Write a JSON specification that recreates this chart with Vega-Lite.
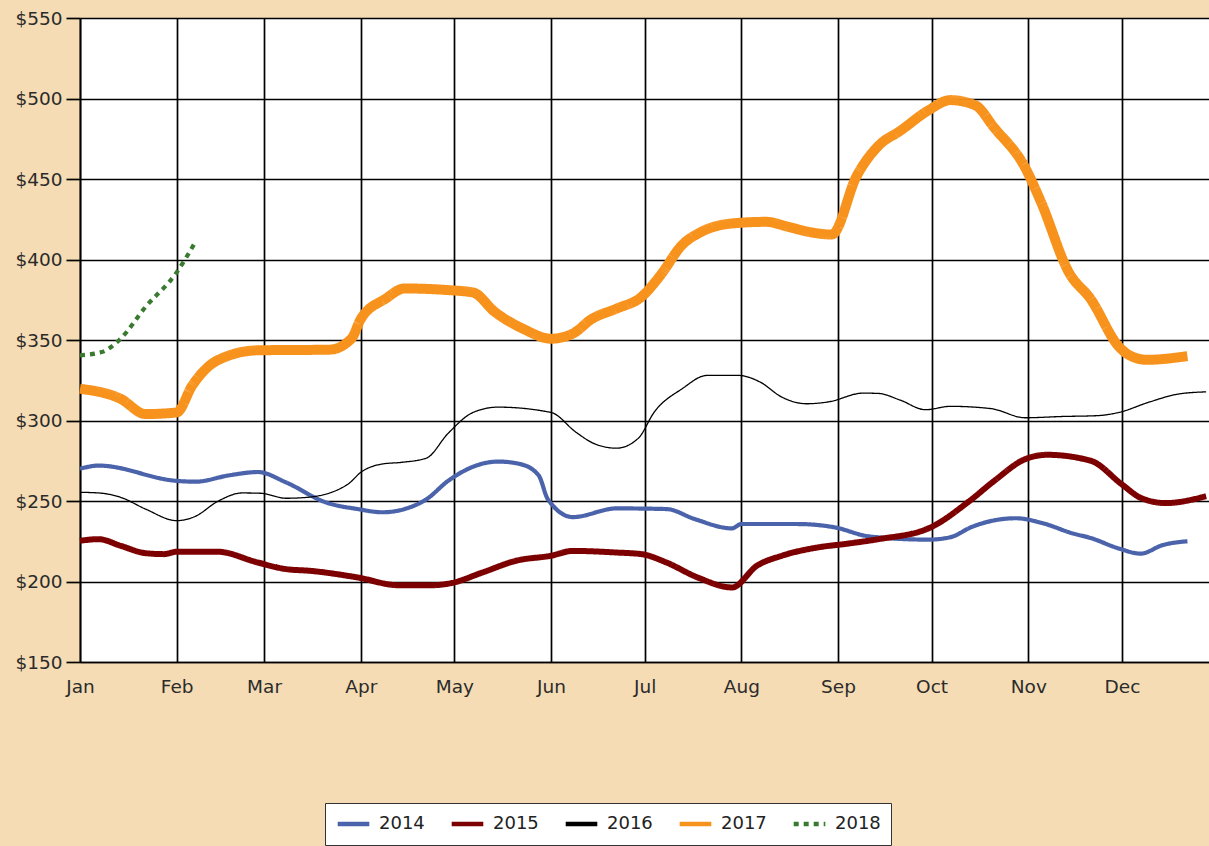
{
  "$schema": "https://vega.github.io/schema/vega-lite/v6.json",
  "width": 1129,
  "height": 644,
  "autosize": {"type": "none"},
  "padding": {"left": 80, "top": 18, "right": 0, "bottom": 184},
  "background": "#F5DCB4",
  "config": {
    "view": {"fill": "white", "stroke": null},
    "font": "DejaVu Sans",
    "legend": {"columnPadding": 24},
    "axis": {
      "labelFont": "DejaVu Sans",
      "labelFontSize": 18.5,
      "labelColor": "#2b2b2b",
      "gridColor": "#000",
      "gridWidth": 1.7,
      "gridOpacity": 1,
      "domainColor": "#000",
      "domainWidth": 1.7,
      "tickColor": "#000",
      "tickWidth": 1.7,
      "title": null
    }
  },
  "data": {
    "values": [
      {"year": "2014", "date": "2001-01-01", "price": 270},
      {"year": "2014", "date": "2001-01-07", "price": 272},
      {"year": "2014", "date": "2001-02-01", "price": 262.5},
      {"year": "2014", "date": "2001-02-07", "price": 262},
      {"year": "2014", "date": "2001-02-18", "price": 266},
      {"year": "2014", "date": "2001-02-27", "price": 268},
      {"year": "2014", "date": "2001-03-08", "price": 261.6},
      {"year": "2014", "date": "2001-03-21", "price": 249},
      {"year": "2014", "date": "2001-03-31", "price": 245},
      {"year": "2014", "date": "2001-04-08", "price": 243},
      {"year": "2014", "date": "2001-04-15", "price": 245},
      {"year": "2014", "date": "2001-04-22", "price": 251},
      {"year": "2014", "date": "2001-04-29", "price": 262.5},
      {"year": "2014", "date": "2001-05-08", "price": 272},
      {"year": "2014", "date": "2001-05-15", "price": 274.5},
      {"year": "2014", "date": "2001-05-22", "price": 273},
      {"year": "2014", "date": "2001-05-28", "price": 266},
      {"year": "2014", "date": "2001-05-31", "price": 251},
      {"year": "2014", "date": "2001-06-08", "price": 240},
      {"year": "2014", "date": "2001-06-22", "price": 245.4},
      {"year": "2014", "date": "2001-07-08", "price": 245},
      {"year": "2014", "date": "2001-07-17", "price": 238.8},
      {"year": "2014", "date": "2001-07-29", "price": 233},
      {"year": "2014", "date": "2001-08-01", "price": 235.7},
      {"year": "2014", "date": "2001-08-19", "price": 235.7},
      {"year": "2014", "date": "2001-08-31", "price": 233.6},
      {"year": "2014", "date": "2001-09-11", "price": 228},
      {"year": "2014", "date": "2001-09-30", "price": 226},
      {"year": "2014", "date": "2001-10-07", "price": 227.5},
      {"year": "2014", "date": "2001-10-14", "price": 234},
      {"year": "2014", "date": "2001-10-28", "price": 239.3},
      {"year": "2014", "date": "2001-11-06", "price": 236},
      {"year": "2014", "date": "2001-11-15", "price": 230},
      {"year": "2014", "date": "2001-11-21", "price": 227},
      {"year": "2014", "date": "2001-11-30", "price": 220.5},
      {"year": "2014", "date": "2001-12-07", "price": 217.3},
      {"year": "2014", "date": "2001-12-14", "price": 222.6},
      {"year": "2014", "date": "2001-12-22", "price": 225},

      {"year": "2015", "date": "2001-01-01", "price": 225.3},
      {"year": "2015", "date": "2001-01-07", "price": 226.3},
      {"year": "2015", "date": "2001-01-14", "price": 222.2},
      {"year": "2015", "date": "2001-01-22", "price": 217.6},
      {"year": "2015", "date": "2001-01-28", "price": 217},
      {"year": "2015", "date": "2001-02-01", "price": 218.5},
      {"year": "2015", "date": "2001-02-14", "price": 218.5},
      {"year": "2015", "date": "2001-02-27", "price": 211.8},
      {"year": "2015", "date": "2001-03-08", "price": 207.7},
      {"year": "2015", "date": "2001-03-16", "price": 206.6},
      {"year": "2015", "date": "2001-03-31", "price": 202.5},
      {"year": "2015", "date": "2001-04-13", "price": 197.7},
      {"year": "2015", "date": "2001-04-24", "price": 197.7},
      {"year": "2015", "date": "2001-04-30", "price": 199},
      {"year": "2015", "date": "2001-05-10", "price": 205.6},
      {"year": "2015", "date": "2001-05-21", "price": 213},
      {"year": "2015", "date": "2001-06-01", "price": 216},
      {"year": "2015", "date": "2001-06-08", "price": 219},
      {"year": "2015", "date": "2001-06-22", "price": 218},
      {"year": "2015", "date": "2001-06-30", "price": 217},
      {"year": "2015", "date": "2001-07-08", "price": 211.8},
      {"year": "2015", "date": "2001-07-18", "price": 202.5},
      {"year": "2015", "date": "2001-07-29", "price": 196.3},
      {"year": "2015", "date": "2001-08-06", "price": 209.8},
      {"year": "2015", "date": "2001-08-14", "price": 216},
      {"year": "2015", "date": "2001-08-25", "price": 221},
      {"year": "2015", "date": "2001-09-04", "price": 223.5},
      {"year": "2015", "date": "2001-09-14", "price": 226.3},
      {"year": "2015", "date": "2001-09-30", "price": 233},
      {"year": "2015", "date": "2001-10-13", "price": 249.8},
      {"year": "2015", "date": "2001-10-21", "price": 262.4},
      {"year": "2015", "date": "2001-10-31", "price": 276},
      {"year": "2015", "date": "2001-11-07", "price": 278.7},
      {"year": "2015", "date": "2001-11-21", "price": 275},
      {"year": "2015", "date": "2001-12-01", "price": 260.3},
      {"year": "2015", "date": "2001-12-07", "price": 252},
      {"year": "2015", "date": "2001-12-15", "price": 248.7},
      {"year": "2015", "date": "2001-12-28", "price": 253},

      {"year": "2016", "date": "2001-01-01", "price": 255.4},
      {"year": "2016", "date": "2001-01-07", "price": 255},
      {"year": "2016", "date": "2001-01-14", "price": 252.3},
      {"year": "2016", "date": "2001-01-22", "price": 245},
      {"year": "2016", "date": "2001-02-01", "price": 237.8},
      {"year": "2016", "date": "2001-02-07", "price": 240.5},
      {"year": "2016", "date": "2001-02-14", "price": 249.6},
      {"year": "2016", "date": "2001-02-22", "price": 255},
      {"year": "2016", "date": "2001-02-28", "price": 254.8},
      {"year": "2016", "date": "2001-03-08", "price": 251.7},
      {"year": "2016", "date": "2001-03-15", "price": 252.3},
      {"year": "2016", "date": "2001-03-28", "price": 260.6},
      {"year": "2016", "date": "2001-04-01", "price": 267.8},
      {"year": "2016", "date": "2001-04-08", "price": 273},
      {"year": "2016", "date": "2001-04-14", "price": 274},
      {"year": "2016", "date": "2001-04-22", "price": 276.6},
      {"year": "2016", "date": "2001-04-29", "price": 292},
      {"year": "2016", "date": "2001-05-07", "price": 305},
      {"year": "2016", "date": "2001-05-15", "price": 308.3},
      {"year": "2016", "date": "2001-06-01", "price": 305},
      {"year": "2016", "date": "2001-06-09", "price": 292.7},
      {"year": "2016", "date": "2001-06-15", "price": 285.5},
      {"year": "2016", "date": "2001-06-22", "price": 282.8},
      {"year": "2016", "date": "2001-06-29", "price": 289},
      {"year": "2016", "date": "2001-07-04", "price": 305},
      {"year": "2016", "date": "2001-07-13", "price": 319.7},
      {"year": "2016", "date": "2001-07-21", "price": 328},
      {"year": "2016", "date": "2001-07-31", "price": 328},
      {"year": "2016", "date": "2001-08-07", "price": 323.9},
      {"year": "2016", "date": "2001-08-14", "price": 314.5},
      {"year": "2016", "date": "2001-08-22", "price": 310.4},
      {"year": "2016", "date": "2001-08-29", "price": 311.6},
      {"year": "2016", "date": "2001-09-09", "price": 317},
      {"year": "2016", "date": "2001-09-14", "price": 316.8},
      {"year": "2016", "date": "2001-09-21", "price": 312.6},
      {"year": "2016", "date": "2001-09-29", "price": 306.7},
      {"year": "2016", "date": "2001-10-07", "price": 308.8},
      {"year": "2016", "date": "2001-10-20", "price": 307.4},
      {"year": "2016", "date": "2001-10-31", "price": 301.7},
      {"year": "2016", "date": "2001-11-12", "price": 302.5},
      {"year": "2016", "date": "2001-11-23", "price": 303},
      {"year": "2016", "date": "2001-11-30", "price": 305},
      {"year": "2016", "date": "2001-12-10", "price": 311.6},
      {"year": "2016", "date": "2001-12-19", "price": 316.4},
      {"year": "2016", "date": "2001-12-28", "price": 317.8},

      {"year": "2017", "date": "2001-01-01", "price": 319.7},
      {"year": "2017", "date": "2001-01-14", "price": 313.5},
      {"year": "2017", "date": "2001-01-22", "price": 304},
      {"year": "2017", "date": "2001-02-01", "price": 305},
      {"year": "2017", "date": "2001-02-06", "price": 321.8},
      {"year": "2017", "date": "2001-02-14", "price": 337.3},
      {"year": "2017", "date": "2001-02-27", "price": 343.6},
      {"year": "2017", "date": "2001-03-22", "price": 344},
      {"year": "2017", "date": "2001-03-29", "price": 350.8},
      {"year": "2017", "date": "2001-04-01", "price": 363},
      {"year": "2017", "date": "2001-04-09", "price": 375.7},
      {"year": "2017", "date": "2001-04-15", "price": 382},
      {"year": "2017", "date": "2001-04-29", "price": 381},
      {"year": "2017", "date": "2001-05-07", "price": 379.5},
      {"year": "2017", "date": "2001-05-14", "price": 367.4},
      {"year": "2017", "date": "2001-05-23", "price": 357},
      {"year": "2017", "date": "2001-06-01", "price": 350.8},
      {"year": "2017", "date": "2001-06-08", "price": 354},
      {"year": "2017", "date": "2001-06-14", "price": 363},
      {"year": "2017", "date": "2001-06-22", "price": 369.5},
      {"year": "2017", "date": "2001-06-30", "price": 376.8},
      {"year": "2017", "date": "2001-07-06", "price": 390},
      {"year": "2017", "date": "2001-07-13", "price": 409},
      {"year": "2017", "date": "2001-07-19", "price": 417},
      {"year": "2017", "date": "2001-07-29", "price": 422.4},
      {"year": "2017", "date": "2001-08-09", "price": 423.4},
      {"year": "2017", "date": "2001-08-16", "price": 420.3},
      {"year": "2017", "date": "2001-08-23", "price": 417},
      {"year": "2017", "date": "2001-08-30", "price": 415.5},
      {"year": "2017", "date": "2001-09-07", "price": 452},
      {"year": "2017", "date": "2001-09-14", "price": 470.7},
      {"year": "2017", "date": "2001-09-21", "price": 480},
      {"year": "2017", "date": "2001-09-30", "price": 492.7},
      {"year": "2017", "date": "2001-10-07", "price": 499},
      {"year": "2017", "date": "2001-10-15", "price": 495.8},
      {"year": "2017", "date": "2001-10-21", "price": 482},
      {"year": "2017", "date": "2001-10-31", "price": 457},
      {"year": "2017", "date": "2001-11-05", "price": 436},
      {"year": "2017", "date": "2001-11-14", "price": 392},
      {"year": "2017", "date": "2001-11-21", "price": 375.4},
      {"year": "2017", "date": "2001-11-30", "price": 346},
      {"year": "2017", "date": "2001-12-03", "price": 341},
      {"year": "2017", "date": "2001-12-09", "price": 337.7},
      {"year": "2017", "date": "2001-12-22", "price": 340},

      {"year": "2018", "date": "2001-01-01", "price": 340.5},
      {"year": "2018", "date": "2001-01-08", "price": 342.5},
      {"year": "2018", "date": "2001-01-14", "price": 350.8},
      {"year": "2018", "date": "2001-01-22", "price": 370.5},
      {"year": "2018", "date": "2001-02-01", "price": 392},
      {"year": "2018", "date": "2001-02-07", "price": 411}
    ]
  },
  "mark": {"type": "line", "interpolate": "monotone", "strokeCap": "butt", "strokeJoin": "round"},
  "encoding": {
    "x": {
      "field": "date",
      "type": "temporal",
      "scale": {
        "type": "utc",
        "domain": [
          {"year": 2001, "month": 1, "date": 1, "utc": true},
          {"year": 2001, "month": 12, "date": 28, "hours": 22, "utc": true}
        ]
      },
      "axis": {
        "values": [
          {"year": 2001, "month": 1, "date": 1, "utc": true},
          {"year": 2001, "month": 2, "date": 1, "utc": true},
          {"year": 2001, "month": 3, "date": 1, "utc": true},
          {"year": 2001, "month": 4, "date": 1, "utc": true},
          {"year": 2001, "month": 5, "date": 1, "utc": true},
          {"year": 2001, "month": 6, "date": 1, "utc": true},
          {"year": 2001, "month": 7, "date": 1, "utc": true},
          {"year": 2001, "month": 8, "date": 1, "utc": true},
          {"year": 2001, "month": 9, "date": 1, "utc": true},
          {"year": 2001, "month": 10, "date": 1, "utc": true},
          {"year": 2001, "month": 11, "date": 1, "utc": true},
          {"year": 2001, "month": 12, "date": 1, "utc": true}
        ],
        "labelExpr": "utcFormat(datum.value, '%b')",
        "grid": true,
        "tickSize": 0,
        "labelPadding": 15,
        "labelAlign": "center",
        "labelFlush": false,
        "labelOverlap": false
      }
    },
    "y": {
      "field": "price",
      "type": "quantitative",
      "scale": {"domain": [150, 550], "nice": false, "zero": false},
      "axis": {
        "values": [150, 200, 250, 300, 350, 400, 450, 500, 550],
        "format": "$.0f",
        "grid": true,
        "tickSize": 14,
        "labelPadding": 4,
        "labelFlush": false,
        "labelOverlap": false
      }
    },
    "color": {
      "field": "year",
      "type": "nominal",
      "scale": {
        "domain": ["2014", "2015", "2016", "2017", "2018"],
        "range": ["#4A63AA", "#7D0000", "#000000", "#F7921C", "#3A7A30"]
      },
      "legend": {
        "title": null,
        "orient": "none",
        "legendX": 245,
        "legendY": 785,
        "direction": "horizontal",
        "columns": 5,
        "fillColor": "white",
        "strokeColor": "#333",
        "padding": 10,
        "labelOffset": 7,
        "labelFont": "DejaVu Sans",
        "labelFontSize": 18,
        "labelColor": "#222",
        "symbolType": "stroke",
        "symbolSize": 1000,
        "symbolStrokeWidth": 4.5,
        "clipHeight": 22
      }
    },
    "strokeDash": {
      "field": "year",
      "type": "nominal",
      "scale": {
        "domain": ["2014", "2015", "2016", "2017", "2018"],
        "range": [[1, 0], [1, 0], [1, 0], [1, 0], [5, 5]]
      },
      "legend": {"title": null}
    },
    "strokeWidth": {
      "condition": [
        {"test": "datum.year === '2017'", "value": 10},
        {"test": "datum.year === '2015'", "value": 6},
        {"test": "datum.year === '2016'", "value": 1.3}
      ],
      "value": 4.2
    }
  }
}
